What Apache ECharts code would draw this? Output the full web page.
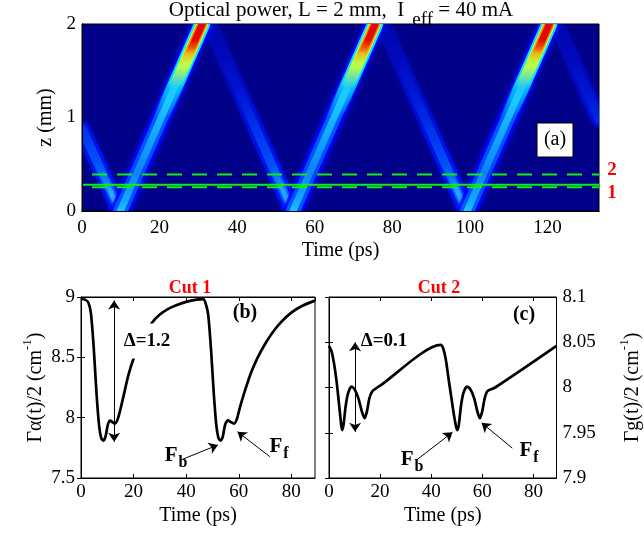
<!DOCTYPE html>
<html><head><meta charset="utf-8">
<script src="https://cdn.jsdelivr.net/npm/echarts@6/dist/echarts.min.js"></script>
<style>html,body{margin:0;padding:0;background:#fff}#c{width:644px;height:538px}</style>
</head><body><div id="c"></div>
<script>
// ---------- Panel (a): pulse trajectories (time ps, z mm) ----------
const upStreaks = [
  [[9.9, 0], [31.0, 2]],
  [[54.4, 0], [75.6, 2]],
  [[99.3, 0], [120.5, 2]]
];
const downStreaks = [
  [[0, 0.88], [9.7, 0]],
  [[32.9, 2], [54.2, 0]],
  [[77.6, 2], [99.1, 0]],
  [[122.4, 2], [133.3, 0.98]]
];
const cut2Z = 0.39;     // dashed line "2"
const cut1Z = 0.255;    // dashed line "1"
const markerZ = 0.28;   // solid green line
const mapTimeMax = 133.3;
const mapZTicks = [0, 1, 2];
const timeTicks = [0, 20, 40, 60, 80, 100, 120];

// ---------- Panel (b): Cut 1, Γα(t)/2 (cm^-1) ----------
const cut1Time = [0, 1.5, 2.8, 3.8, 4.9, 5.9, 6.9, 7.7, 8.5, 9.3, 10.2, 11.1, 12, 12.9, 14, 15, 16.5, 18, 20, 22.5, 25, 27.5, 30, 33, 36, 40, 44, 46.5, 47.5, 48.4, 49.5, 50.5, 51.5, 52.3, 53.1, 53.9, 54.8, 55.9, 56.9, 58.2, 59.3, 60.5, 62, 63.5, 65, 67, 70, 73, 76, 80, 84, 89];
const cut1Alpha = [8.985, 8.978, 8.955, 8.86, 8.56, 8.2, 7.93, 7.83, 7.81, 7.84, 7.94, 7.975, 7.962, 7.95, 7.99, 8.07, 8.21, 8.35, 8.49, 8.62, 8.72, 8.8, 8.855, 8.9, 8.93, 8.96, 8.978, 8.982, 8.94, 8.85, 8.55, 8.2, 7.93, 7.83, 7.81, 7.84, 7.94, 7.978, 7.965, 7.95, 7.99, 8.09, 8.2, 8.3, 8.39, 8.49, 8.61, 8.71, 8.79, 8.87, 8.925, 8.97];

// ---------- Panel (c): Cut 2, Γg(t)/2 (cm^-1) ----------
const cut2Time = [0, 1, 2, 3, 3.8, 4.5, 5.1, 5.7, 6.5, 7.5, 8.8, 10, 11.5, 12.8, 13.9, 14.8, 15.8, 17, 20, 43.7, 44.7, 45.7, 46.7, 47.8, 48.8, 49.7, 50.2, 50.8, 51.6, 52.6, 54, 55.3, 56.8, 58, 59, 59.9, 60.9, 62, 65, 89];
const cut2Gain = [8.046, 8.04, 8.026, 8.006, 7.985, 7.966, 7.953, 7.959, 7.979, 7.994, 8.001, 7.998, 7.988, 7.974, 7.966, 7.973, 7.988, 7.996, 8.002, 8.047, 8.043, 8.031, 8.011, 7.99, 7.971, 7.957, 7.953, 7.959, 7.979, 7.994, 8.001, 7.998, 7.988, 7.974, 7.966, 7.973, 7.988, 7.996, 8.0, 8.046];
const cutTimeMax = 89;

// ---------- annotation arrows (data coordinates) ----------
const arrowsB = [
  {from: [12.6, 8.97], to: [12.6, 7.80], both: true},
  {from: [38.6, 7.655], to: [52.1, 7.774]},
  {from: [71.8, 7.677], to: [59.5, 7.884]}
];
const arrowsC = [
  {from: [10.2, 8.050], to: [10.2, 7.951], both: true},
  {from: [34.3, 7.920], to: [48.3, 7.9505]},
  {from: [71.7, 7.933], to: [59.7, 7.961]}
];

// =====================================================================
const FONT = '"Liberation Serif", "Times New Roman", serif';
const zip = (a, b) => a.map((v, i) => [v, b[i]]);

function interp(stops, z) {
  if (z <= stops[0][0]) return stops[0].slice(1);
  const last = stops[stops.length - 1];
  if (z >= last[0]) return last.slice(1);
  for (let i = 0; i < stops.length - 1; i++) {
    const a = stops[i], b = stops[i + 1];
    if (z >= a[0] && z <= b[0]) {
      const f = (z - a[0]) / ((b[0] - a[0]) || 1);
      return [1, 2, 3, 4].map(k => a[k] + (b[k] - a[k]) * f);
    }
  }
}
function rgba(c) { return 'rgba(' + Math.round(c[0]) + ',' + Math.round(c[1]) + ',' + Math.round(c[2]) + ',' + c[3].toFixed(3) + ')'; }
function grad(z0, z1, rgb, alphaStops) {
  const stops = alphaStops.map(s => [s[0], rgb[0], rgb[1], rgb[2], s[1]]);
  const zTop = Math.max(z0, z1), zBot = Math.min(z0, z1);
  const zs = [zTop].concat(stops.map(s => s[0]).filter(z => z < zTop && z > zBot), [zBot]).sort((a, b) => b - a);
  const cs = zs.map(z => ({offset: (zTop - z) / (zTop - zBot), color: rgba(interp(stops, z))}));
  return new echarts.graphic.LinearGradient(0, 0, 0, 1, cs);
}

const upLayers = [
  {w: 20, rgb: [0, 0, 255], a: [[0, 0.8], [0.6, 0.75], [1.2, 0.9], [2, 1]], blur: 6},
  {w: 14, rgb: [0, 100, 255], a: [[0, 0.95], [0.4, 0.7], [0.9, 0.9], [1.3, 1], [2, 1]]},
  {w: 16, rgb: [0, 230, 255], a: [[1.0, 0], [1.35, 0.85], [1.6, 1], [2, 1]]},
  {w: 7, rgb: [30, 200, 255], a: [[0, 1], [0.15, 0.7], [0.45, 0.45], [0.9, 0.75], [1.2, 1], [2, 1]]},
  {w: 12, rgb: [200, 255, 60], a: [[1.3, 0], [1.5, 0.9], [1.65, 1], [2, 1]]},
  {w: 10, rgb: [255, 140, 0], a: [[1.55, 0], [1.72, 1], [2, 1]]},
  {w: 7, rgb: [225, 10, 0], a: [[1.66, 0], [1.8, 1], [2, 1]]}
];
const downLayers = [
  {w: 16, rgb: [0, 20, 255], a: [[0, 0.9], [0.5, 0.75], [1, 0.5], [1.6, 0.28], [2, 0.18]], blur: 5},
  {w: 9, rgb: [0, 120, 255], a: [[0, 1], [0.3, 0.8], [0.7, 0.45], [1.2, 0.12], [1.6, 0]]},
  {w: 5, rgb: [80, 230, 255], a: [[0, 1], [0.15, 0.65], [0.35, 0.2], [0.5, 0]]}
];

const series = [];
function addStreaks(list, layers) {
  layers.forEach(L => {
    series.push({
      type: 'custom', xAxisIndex: 0, yAxisIndex: 0, clip: true, silent: true, animation: false,
      data: list.map(s => [s[0][0], s[0][1], s[1][0], s[1][1]]),
      encode: {x: [0, 2], y: [1, 3]},
      renderItem: function (params, api) {
        const a = [api.value(0), api.value(1)], b = [api.value(2), api.value(3)];
        const p0 = api.coord(a), p1 = api.coord(b);
        return {
          type: 'polyline', shape: {points: [p0, p1]},
          style: {fill: 'none', stroke: grad(a[1], b[1], L.rgb, L.a), lineWidth: L.w, lineCap: 'round',
            shadowBlur: L.blur || 0, shadowColor: L.blur ? 'rgba(0,20,255,0.8)' : 'rgba(0,0,0,0)'}
        };
      }
    });
  });
}
addStreaks(downStreaks, downLayers);
addStreaks(upStreaks, upLayers);

const green = '#10ee10';
series.push({type: 'line', xAxisIndex: 0, yAxisIndex: 0, symbol: 'none', silent: true, data: [[0, cut2Z], [mapTimeMax, cut2Z]],
  lineStyle: {color: green, width: 2, type: [15, 10], dashOffset: 15}});
series.push({type: 'line', xAxisIndex: 0, yAxisIndex: 0, symbol: 'none', silent: true, data: [[0, cut1Z], [mapTimeMax, cut1Z]],
  lineStyle: {color: green, width: 2, type: [15, 10], dashOffset: 15}});
series.push({type: 'line', xAxisIndex: 0, yAxisIndex: 0, symbol: 'none', silent: true, data: [[0, markerZ], [mapTimeMax, markerZ]],
  lineStyle: {color: green, width: 2}});

function arrowMarks(arr) {
  return {
    silent: true, animation: false, precision: 4,
    label: {show: false},
    lineStyle: {type: 'solid', color: '#000', width: 1},
    emphasis: {disabled: true},
    data: arr.map(a => [
      {coord: a.from, symbol: a.both ? 'arrow' : 'none', symbolSize: 9},
      {coord: a.to, symbol: 'arrow', symbolSize: 9}
    ])
  };
}
series.push({type: 'line', xAxisIndex: 2, yAxisIndex: 2, data: zip(cut1Time, cut1Alpha), symbol: 'none', silent: true,
  smooth: 0.25, lineStyle: {color: '#000', width: 2.7, join: 'round'}, markLine: arrowMarks(arrowsB)});
series.push({type: 'line', xAxisIndex: 4, yAxisIndex: 4, data: zip(cut2Time, cut2Gain), symbol: 'none', silent: true,
  smooth: 0.25, lineStyle: {color: '#000', width: 2.7, join: 'round'}, markLine: arrowMarks(arrowsC)});

const tickLbl = {color: '#000', fontFamily: FONT, fontSize: 19};
const nameSty = {color: '#000', fontFamily: FONT, fontSize: 20};
function xAx(grid, max, bottom, name, gap) {
  return {
    gridIndex: grid, type: 'value', min: 0, max: max, interval: 20, position: bottom ? 'bottom' : 'top', z: 10,
    axisLine: {show: true, lineStyle: {color: '#000', width: 1}},
    axisTick: {show: grid !== 0, inside: true, length: 4, lineStyle: {color: '#000'}},
    splitLine: {show: false},
    axisLabel: bottom ? Object.assign({margin: grid === 0 ? 8 : 5, showMaxLabel: false, formatter: v => timeTicks.includes(v) ? String(v) : ''}, tickLbl) : {show: false},
    name: bottom ? name : '', nameLocation: 'middle', nameGap: gap, nameTextStyle: nameSty
  };
}
function yAx(grid, min, max, interval, pos, labels, name, gap, fmt) {
  return {
    gridIndex: grid, type: 'value', min: min, max: max, interval: interval, position: pos, z: 10,
    axisLine: {show: true, lineStyle: {color: '#000', width: 1}},
    axisTick: {show: grid !== 0, inside: true, length: 4, lineStyle: {color: '#000'}},
    splitLine: {show: false},
    axisLabel: labels ? Object.assign({margin: 6, formatter: fmt}, tickLbl) : {show: false},
    name: name || '', nameLocation: 'middle', nameGap: gap, nameRotate: 90,
    nameTextStyle: Object.assign({rich: {s: {fontFamily: FONT, fontSize: 13, color: '#000', padding: [0, 0, 16, 0]}}}, nameSty)
  };
}

function fSub(s) {
  return {text: '{m|F}{s|' + s + '}', align: 'center', verticalAlign: 'middle',
    rich: {m: {fontFamily: FONT, fontWeight: 'bold', fontSize: 21, fill: '#000', verticalAlign: 'top'},
           s: {fontFamily: FONT, fontWeight: 'bold', fontSize: 16, fill: '#000', verticalAlign: 'top', padding: [10, 0, 0, 1]}}};
}

const option = {
  animation: false,
  backgroundColor: '#fff',
  grid: [
    {left: 82, top: 24, width: 517, height: 187, show: true, backgroundColor: '#000088', borderColor: '#000', borderWidth: 1},
    {left: 81, top: 297, width: 234, height: 181, show: true, backgroundColor: 'transparent', borderColor: '#000', borderWidth: 1},
    {left: 329, top: 297, width: 233, height: 181, show: true, backgroundColor: 'transparent', borderColor: '#000', borderWidth: 1}
  ],
  xAxis: [
    xAx(0, mapTimeMax, true, 'Time (ps)', 30), xAx(0, mapTimeMax, false),
    xAx(1, cutTimeMax, true, 'Time (ps)', 28), xAx(1, cutTimeMax, false),
    xAx(2, cutTimeMax, true, 'Time (ps)', 28), xAx(2, cutTimeMax, false)
  ],
  yAxis: [
    yAx(0, 0, 2, 1, 'left', true, 'z (mm)', 18, v => mapZTicks.includes(v) ? String(v) : ''),
    yAx(0, 0, 2, 1, 'right', false),
    yAx(1, 7.5, 9, 0.5, 'left', true, 'Γα(t)/2 (cm{s|-1})', 31, v => String(+v.toFixed(2))),
    yAx(1, 7.5, 9, 0.5, 'right', false),
    yAx(2, 7.9, 8.1, 0.05, 'right', true, 'Γg(t)/2 (cm{s|-1})', 62, v => String(+v.toFixed(2))),
    yAx(2, 7.9, 8.1, 0.05, 'left', false)
  ],
  series: series,
  graphic: [
    {type: 'text', x: 341, y: 0, z: 100, style: {
      text: '{m|Optical power, L = 2 mm,  I}{s|eff}{m| = 40 mA}', align: 'center', verticalAlign: 'top',
      rich: {m: {fontFamily: FONT, fontSize: 21, fill: '#000', verticalAlign: 'top'},
             s: {fontFamily: FONT, fontSize: 19, fill: '#000', verticalAlign: 'top', padding: [11, 0, 0, 8]}}}},
    {type: 'rect', z: 100, shape: {x: 537, y: 123, width: 36, height: 34}, style: {fill: '#fff', stroke: '#000', lineWidth: 1}},
    {type: 'text', x: 555, y: 140, z: 101, style: {text: '(a)', font: '20px ' + FONT, fill: '#000', align: 'center', verticalAlign: 'middle'}},
    {type: 'text', x: 612, y: 170, z: 100, style: {text: '2', font: 'bold 19px ' + FONT, fill: '#ff0000', align: 'center', verticalAlign: 'middle'}},
    {type: 'text', x: 612, y: 193, z: 100, style: {text: '1', font: 'bold 19px ' + FONT, fill: '#ff0000', align: 'center', verticalAlign: 'middle'}},
    {type: 'text', x: 190, y: 288, z: 100, style: {text: 'Cut 1', font: 'bold 18px ' + FONT, fill: '#ff0000', align: 'center', verticalAlign: 'middle'}},
    {type: 'text', x: 439, y: 288, z: 100, style: {text: 'Cut 2', font: 'bold 18px ' + FONT, fill: '#ff0000', align: 'center', verticalAlign: 'middle'}},
    {type: 'text', x: 245, y: 313, z: 100, style: {text: '(b)', font: 'bold 20px ' + FONT, fill: '#000', align: 'center', verticalAlign: 'middle'}},
    {type: 'text', x: 524, y: 315, z: 100, style: {text: '(c)', font: 'bold 20px ' + FONT, fill: '#000', align: 'center', verticalAlign: 'middle'}},
    {type: 'text', x: 147, y: 341, z: 100, style: {text: 'Δ=1.2', font: 'bold 19px ' + FONT, fill: '#000', align: 'center', verticalAlign: 'middle',
      backgroundColor: '#fff', padding: [9, 2, 7, 2]}},
    {type: 'text', x: 384, y: 341, z: 100, style: {text: 'Δ=0.1', font: 'bold 19px ' + FONT, fill: '#000', align: 'center', verticalAlign: 'middle'}},
    {type: 'text', x: 176, y: 458, z: 100, style: fSub('b')},
    {type: 'text', x: 279, y: 449, z: 100, style: fSub('f')},
    {type: 'text', x: 412, y: 462, z: 100, style: fSub('b')},
    {type: 'text', x: 529, y: 453, z: 100, style: fSub('f')}
  ]
};
const chart = echarts.init(document.getElementById('c'), null, {renderer: 'canvas'});
chart.setOption(option);
</script></body></html>
